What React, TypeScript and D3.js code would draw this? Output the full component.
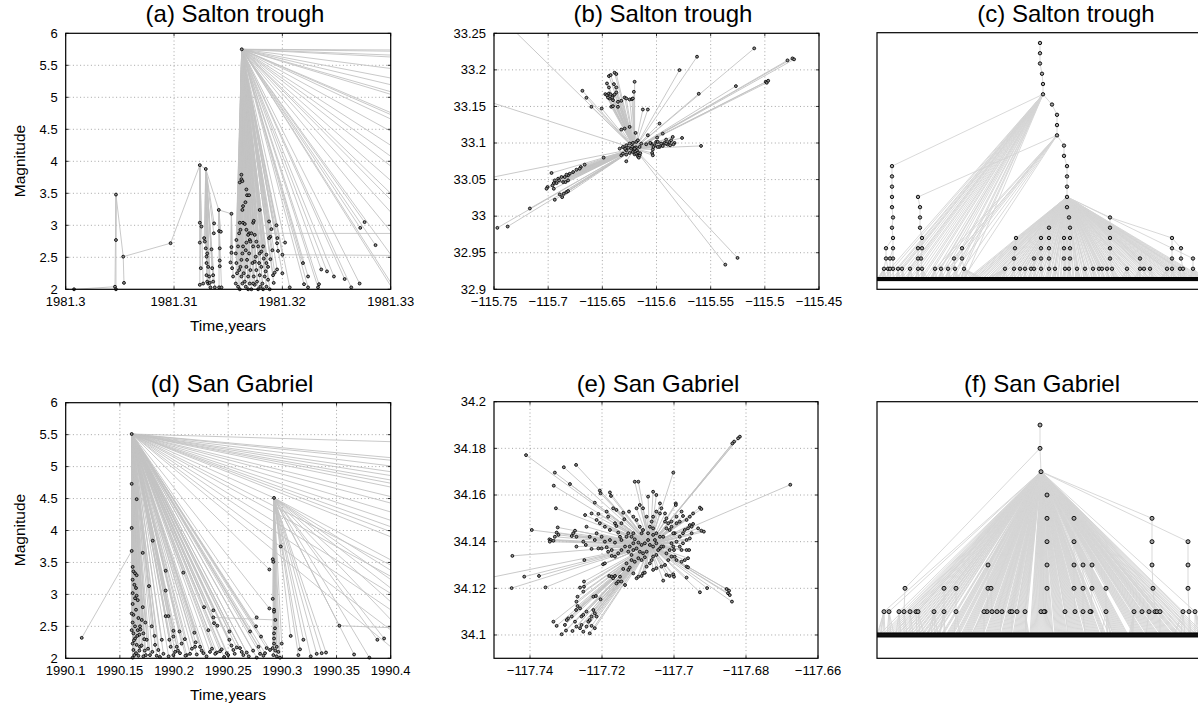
import React from "react";
import * as d3 from "d3";

const FONT = "'Liberation Sans', Arial, Helvetica, sans-serif";

/* ============ Salton trough (1981) ============ */

// magnitude-time sequence: [time (yr), magnitude, parent index (-1 = no parent)]
const saltonSequence: [number, number, number][] = [
  [1981.31625, 5.75, -1],
  [1981.30077, 2.0, 2], [1981.30455, 2.04, 3], [1981.30464, 3.48, -1], [1981.30464, 2.77, 3],
  [1981.30464, 2.0, 3], [1981.30531, 2.51, 3], [1981.30538, 2.1, 6], [1981.30968, 2.72, 6],
  [1981.31238, 3.94, 8], [1981.31293, 3.88, 9], [1981.31413, 3.24, 10], [1981.3153, 3.18, 11],
  [1981.31238, 3.04, 9], [1981.31253, 2.98, 9], [1981.31238, 2.73, 9], [1981.31247, 2.33, 9],
  [1981.31238, 2.07, 9], [1981.31269, 2.09, 9],
  [1981.31278, 2.8, 10], [1981.31284, 2.745, 10], [1981.31293, 2.64, 10], [1981.313, 2.51, 10],
  [1981.31306, 2.56, 10], [1981.313, 2.41, 10], [1981.31315, 2.35, 10], [1981.313, 2.22, 10],
  [1981.31306, 2.12, 10], [1981.31315, 2.09, 10], [1981.3133, 2.1, 10], [1981.31324, 2.2, 10],
  [1981.31352, 2.33, 10], [1981.31361, 2.22, 10], [1981.31361, 2.12, 10], [1981.31346, 2.625, 10],
  [1981.3137, 3.03, 10], [1981.31367, 2.875, 10], [1981.31376, 2.03, 10], [1981.31336, 2.03, 10],
  [1981.31416, 2.91, 11], [1981.31432, 2.9, 11], [1981.31422, 2.64, 11], [1981.31422, 2.45, 11],
  [1981.31422, 2.36, 11], [1981.31416, 2.03, 11], [1981.31438, 2.03, 11],
  [1981.31521, 2.42, 12], [1981.3153, 2.66, 12], [1981.3153, 2.57, 12], [1981.31536, 2.33, 12],
  [1981.31545, 2.2, 12],
  [1981.31693, 2.875, 0], [1981.32, 2.54, 0], [1981.4, 2.86, 51], [1981.36, 2.5, 52],
];

// aftershocks linked to the M5.75 mainshock: [time, magnitude]
const saltonAftershocks: [number, number][] = [
  [1981.31607, 3.67], [1981.31622, 3.79], [1981.31622, 3.72], [1981.31631, 3.69], [1981.31668, 3.56],
  [1981.31674, 3.47], [1981.31693, 3.47], [1981.31659, 3.36], [1981.31637, 3.3], [1981.31631, 3.24],
  [1981.31607, 3.04], [1981.31637, 3.04], [1981.31653, 3.02], [1981.3173, 3.04], [1981.31736, 3.07],
  [1981.31684, 2.85], [1981.31668, 2.73], [1981.31791, 3.24], [1981.3176, 2.745],
  [1981.31806, 2.59], [1981.31822, 2.67], [1981.31877, 3.06], [1981.31899, 2.94], [1981.31889, 2.82],
  [1981.31877, 2.8], [1981.31945, 3.0], [1981.31954, 2.8], [1981.31951, 2.72], [1981.3196, 2.6],
  [1981.32025, 2.73], [1981.31908, 2.61], [1981.31889, 2.47], [1981.31853, 2.41],
  [1981.31951, 2.31], [1981.31929, 2.26], [1981.31914, 2.22], [1981.3192, 2.1], [1981.32, 2.25],
  [1981.32068, 2.03], [1981.3219, 2.41], [1981.32237, 2.2], [1981.322, 2.08], [1981.32237, 2.03],
  [1981.32338, 2.08], [1981.32329, 2.03], [1981.32359, 2.31], [1981.32412, 2.28], [1981.32476, 2.2],
  [1981.32575, 2.16], [1981.32636, 2.03], [1981.32713, 2.09], [1981.32719, 2.96], [1981.32759, 3.05],
  [1981.3286, 2.69],
  [1981.31576, 2.77], [1981.3157, 2.56], [1981.31576, 2.41], [1981.31582, 2.25], [1981.3157, 2.09],
  [1981.31591, 2.04], [1981.31607, 2.0], [1981.31613, 2.35], [1981.31622, 2.46], [1981.31631, 2.56],
  [1981.31637, 2.67], [1981.31643, 2.25], [1981.31653, 2.12], [1981.31662, 2.04], [1981.31668, 2.35],
  [1981.31674, 2.46], [1981.31684, 2.2], [1981.31693, 2.56], [1981.31699, 2.09], [1981.31705, 2.3],
  [1981.31714, 2.0], [1981.31724, 2.41], [1981.3173, 2.67], [1981.31736, 2.2], [1981.31745, 2.07],
  [1981.31754, 2.51], [1981.3176, 2.3], [1981.31766, 2.12], [1981.31776, 2.0], [1981.31785, 2.41],
  [1981.31791, 2.22], [1981.31797, 2.04], [1981.31806, 2.35], [1981.31816, 2.09], [1981.31822, 2.0],
  [1981.31837, 2.2], [1981.31846, 2.28], [1981.31853, 2.04], [1981.31868, 2.15], [1981.31883, 2.0],
  [1981.31591, 2.67], [1981.31601, 2.875], [1981.31613, 2.93], [1981.31668, 2.93], [1981.31699, 2.77],
  [1981.31714, 2.875], [1981.31745, 2.85], [1981.31776, 2.67], [1981.31791, 2.56], [1981.31828, 2.48],
  [1981.31853, 2.54], [1981.31868, 2.35], [1981.31601, 2.3], [1981.31622, 2.2], [1981.31631, 2.09],
  [1981.31684, 2.0], [1981.3173, 2.09], [1981.31745, 2.43], [1981.31705, 2.745], [1981.31662, 2.61],
];

// later aftershocks of the mainshock, past the end of the time window
const saltonLateAftershocks: [number, number][] = [
  [1985.65, 2.6], [1982.9, 2.3], [1981.767, 2.8], [1981.734, 2.1], [1981.47, 2.4], [1981.425, 2.2],
  [1981.397, 2.5], [1981.392, 2.1], [1981.37, 3.0], [1981.3656, 2.2], [1981.3587, 2.6], [1981.3636, 2.0],
  [1981.3533, 2.3], [1981.3497, 2.1], [1981.3438, 2.4], [1981.343, 2.2], [1981.3414, 2.0], [1981.3361, 2.5],
  [1981.3376, 2.1], [1981.3349, 2.3], [1981.3334, 2.2], [1981.3319, 2.1], [1981.3304, 2.0], [1981.3302, 2.0],
];

// epicentres: [longitude, latitude]; all linked to the mainshock epicentre
const saltonEpicenterHub: [number, number] = [-115.6202, 33.0923];
const saltonEpicenters: [number, number][] = [
  [-115.6439, 33.1915], [-115.6423, 33.1929], [-115.6387, 33.1961], [-115.6371, 33.1943],
  [-115.6457, 33.1814], [-115.6439, 33.176], [-115.6393, 33.1805], [-115.6371, 33.176],
  [-115.6472, 33.1668], [-115.6457, 33.1654], [-115.6439, 33.1677], [-115.6423, 33.1664],
  [-115.6402, 33.1645], [-115.6387, 33.1664], [-115.6371, 33.1691], [-115.6433, 33.1609],
  [-115.6402, 33.1586], [-115.6356, 33.1563], [-115.6417, 33.1495], [-115.6402, 33.1504],
  [-115.6356, 33.1495], [-115.6448, 33.1622], [-115.6408, 33.1622], [-115.6202, 33.1837],
  [-115.6209, 33.17], [-115.6294, 33.1622], [-115.6279, 33.1609], [-115.6248, 33.1595],
  [-115.6227, 33.16], [-115.6218, 33.1609], [-115.6325, 33.1577], [-115.6684, 33.1714],
  [-115.6647, 33.1618], [-115.6601, 33.1495], [-115.6506, 33.1472], [-115.6126, 33.1458],
  [-115.608, 33.1458],
  [-115.5626, 33.218], [-115.5098, 33.2294], [-115.5788, 33.1997], [-115.5267, 33.1778],
  [-115.561, 33.1673], [-115.4745, 33.2157], [-115.473, 33.2144], [-115.4791, 33.213],
  [-115.4991, 33.1837], [-115.4982, 33.1824], [-115.4969, 33.1851],
  [-115.6325, 33.1184], [-115.6294, 33.1197], [-115.6248, 33.122], [-115.6193, 33.1138],
  [-115.5972, 33.1266], [-115.608, 33.1106], [-115.5994, 33.1074], [-115.5942, 33.1129],
  [-115.6049, 33.0992], [-115.6018, 33.0969], [-115.6003, 33.1015], [-115.5972, 33.0946],
  [-115.5957, 33.0992], [-115.5926, 33.1001], [-115.5911, 33.1047], [-115.5896, 33.0978],
  [-115.588, 33.1015], [-115.5865, 33.1037], [-115.585, 33.1083], [-115.5834, 33.1001],
  [-115.5764, 33.1069], [-115.5589, 33.096], [-115.5844, 33.0983], [-115.5942, 33.096],
  [-115.5988, 33.0946], [-115.6034, 33.091], [-115.604, 33.0864], [-115.6034, 33.0832],
  [-115.6028, 33.0946], [-115.6058, 33.1001], [-115.5911, 33.0992], [-115.5874, 33.0969],
  [-115.5988, 33.1015], [-115.6095, 33.0983],
  [-115.634, 33.0923], [-115.631, 33.0946], [-115.6279, 33.0969], [-115.6248, 33.0992],
  [-115.6218, 33.1001], [-115.6187, 33.1015], [-115.6172, 33.1037], [-115.6233, 33.0923],
  [-115.6279, 33.09], [-115.6325, 33.0832], [-115.631, 33.0855], [-115.6279, 33.0841],
  [-115.6248, 33.0864], [-115.6218, 33.0878], [-115.6202, 33.0846], [-115.6187, 33.0855],
  [-115.6172, 33.0818], [-115.6163, 33.08], [-115.6156, 33.0832], [-115.6181, 33.09],
  [-115.6279, 33.075], [-115.6488, 33.08], [-115.6156, 33.0946], [-115.6141, 33.0992],
  [-115.62, 33.093], [-115.619, 33.094], [-115.621, 33.091], [-115.617, 33.087],
  [-115.615, 33.086], [-115.6225, 33.095], [-115.626, 33.0935], [-115.629, 33.092],
  [-115.6663, 33.0704], [-115.6699, 33.0672], [-115.6709, 33.0649], [-115.6739, 33.0635],
  [-115.677, 33.0603], [-115.6801, 33.058], [-115.6816, 33.0558], [-115.6831, 33.0567],
  [-115.6847, 33.0535], [-115.6877, 33.0535], [-115.6908, 33.0512], [-115.6939, 33.0489],
  [-115.6948, 33.0452], [-115.696, 33.042], [-115.6948, 33.0375], [-115.6923, 33.0452],
  [-115.6899, 33.0489], [-115.6862, 33.0466], [-115.684, 33.0466], [-115.6816, 33.0489],
  [-115.6831, 33.0329], [-115.6816, 33.0343], [-115.6856, 33.0306], [-115.6871, 33.026],
  [-115.6893, 33.0297], [-115.6939, 33.0224], [-115.6969, 33.059], [-115.7006, 33.0398],
  [-115.7015, 33.0375], [-115.7169, 33.0105], [-115.7469, 32.984], [-115.7374, 32.9858],
  [-115.5252, 32.9429], [-115.5365, 32.9337],
  [-115.7383, 33.2637], [-115.7629, 33.1604], [-115.7629, 33.0498],
];

// cluster tree: [order, height level, parent node index]
const saltonTreeNodes: [number, number, number][] = [
  [163, 23, -1], [163, 22, 0], [163, 21, 1], [165, 20, 2], [166, 19, 3], [166, 18, 4],
  [175, 17, 5], [180, 16, 6], [180, 15, 7], [180, 14, 8], [187, 13, 9], [187, 12, 10],
  [190, 11, 11], [190, 10, 12], [190, 9, 13], [190, 8, 14], [190, 7, 15], [192, 6, 16],
  [193, 5, 17], [193, 4, 18], [193, 3, 19], [193, 2, 20], [192, 1, 21],
  [15, 11, 5], [15, 10, 23], [15, 9, 24], [15, 8, 25], [15, 7, 26], [16, 6, 27], [15, 5, 28],
  [16, 4, 29], [16, 3, 30], [16, 2, 31], [16, 1, 32], [9, 3, 30], [9, 2, 34], [13, 2, 31],
  [7, 1, 35], [11, 1, 35], [13, 1, 36], [21, 1, 5], [25, 1, 5], [33, 1, 5],
  [41, 8, 9], [43, 7, 43], [43, 6, 44], [43, 5, 45], [45, 4, 46], [45, 3, 47], [41, 3, 47],
  [44, 2, 48], [41, 2, 49], [45, 1, 50], [41, 1, 51],
  [58, 1, 9], [64, 1, 5], [71, 1, 9],
  [85, 3, 9], [85, 2, 57], [77, 2, 57], [87, 1, 58], [78, 1, 59],
  [139, 4, 15], [138, 3, 62], [137, 2, 63], [137, 1, 64], [128, 1, 15], [143, 1, 15],
  [148, 1, 15], [154, 1, 15],
  [172, 5, 15], [172, 4, 70], [164, 4, 70], [172, 3, 71], [164, 3, 72], [172, 2, 73],
  [164, 2, 74], [157, 2, 74], [172, 1, 75], [164, 1, 76], [157, 1, 77],
  [187, 4, 17], [187, 3, 81], [187, 2, 82], [188, 1, 83],
  [178, 1, 15], [200, 1, 15], [208, 1, 15], [216, 1, 15], [222, 1, 15], [225, 1, 15], [230, 1, 15],
  [233, 6, 15], [233, 5, 92], [233, 4, 93], [233, 3, 94], [233, 2, 95], [235, 1, 96],
  [250, 1, 15], [263, 2, 15], [263, 1, 99], [267, 1, 15], [273, 1, 15], [290, 1, 15],
  [295, 4, 92], [295, 3, 104], [295, 2, 105], [295, 1, 106], [303, 1, 15],
  [304, 3, 104], [304, 2, 109], [306, 1, 110], [316, 2, 15], [316, 1, 112],
];
// leaf parents in leaf order: "." = node just above, letters = branching nodes
const saltonTreeLeaves = [
  "....u..u..", ".u...u..u.", ".u..u..u.u", "..u.u..u..", "u..u.u..u.", "u.v.u..u.v",
  ".u..u.v.u.", "u.v..u.u.v", ".u.u..v.u.", "h.hh.h.hh.", "hh.h.hh.h.", "hh.hh.h.hh",
  ".h.hh.h.hh", ".hh.h.hh.h", "h.hh.hh.h.", "hh.h.hh.hh", ".h.hh.h.hh", "h.hh.hh.h.",
  "hh.hh.h.hh", ".hh.h.hh.h", "h.hh.h.hh.", "hh.h.hh.h.", "hh.hh.h.hh", ".h.hh.h.hh",
  "h.hh.h.hh.", "hh.h.hh.h.", "hh.h.hh.hh", ".h.hh.h.hh", "h.hh.h.hh.", "hh.h.hh.h.",
  "h.hh.h.hh.", "hh.h.h.hh.", "h.h.h.h.h.",
].join("");
const saltonTreeBranches: Record<string, number> = { u: 5, v: 9, h: 15 };

/* ============ San Gabriel (1990) ============ */

const gabrielSequence: [number, number, number][] = [
  [1990.1609, 5.51, -1],
  [1990.2923, 4.51, 0],
  [1990.1609, 3.68, 0],
  [1990.1148, 2.32, 2],
  [1990.3526, 2.51, 1],
  [1990.46, 2.44, 4],
  [1990.2363, 2.64, 0],
  [1990.2935, 2.6, 6],
];

const gabrielAftershocks: [number, number][] = [
  [1990.1609, 4.73], [1990.1609, 4.04], [1990.1655, 4.49],
  [1990.1618, 3.43], [1990.1625, 3.36], [1990.164, 3.33], [1990.1655, 3.3], [1990.1618, 3.23],
  [1990.1634, 3.15], [1990.1649, 3.1], [1990.1618, 3.02], [1990.164, 2.94], [1990.1665, 2.91],
  [1990.1618, 2.85], [1990.1649, 2.76], [1990.1625, 2.68], [1990.1671, 2.63], [1990.1618, 2.56],
  [1990.164, 2.5], [1990.1665, 2.44], [1990.1625, 2.39], [1990.168, 2.37], [1990.164, 2.31],
  [1990.1618, 2.23], [1990.1655, 2.21], [1990.1686, 2.18], [1990.1625, 2.13], [1990.1649, 2.08],
  [1990.1671, 2.04], [1990.1618, 2.01], [1990.1634, 2.05], [1990.168, 2.12], [1990.1609, 2.7],
  [1990.1609, 2.44], [1990.1686, 2.5], [1990.1702, 2.6], [1990.1711, 2.8], [1990.1655, 2.98],
  [1990.1735, 2.56], [1990.1711, 3.65], [1990.1803, 3.84], [1990.1769, 3.13], [1990.1794, 2.5],
  [1990.1717, 2.39], [1990.1748, 2.29], [1990.1717, 2.03], [1990.1778, 2.05], [1990.184, 2.04],
  [1990.1902, 2.07], [1990.1825, 2.21], [1990.1855, 2.13], [1990.1887, 2.29], [1990.1923, 3.37],
  [1990.1923, 3.06], [1990.1923, 2.66], [1990.1948, 2.66], [1990.1994, 2.43], [1990.1994, 2.34],
  [1990.1957, 2.29], [1990.1969, 2.18], [1990.1994, 2.05], [1990.2055, 2.08], [1990.2086, 3.34],
  [1990.2117, 2.05], [1990.2148, 2.07], [1990.2188, 2.4], [1990.2194, 2.18], [1990.224, 2.18],
  [1990.2271, 2.08], [1990.2277, 2.8], [1990.2317, 2.44], [1990.2332, 2.1], [1990.2363, 2.75],
  [1990.2369, 2.55], [1990.24, 2.51], [1990.2394, 2.09], [1990.2425, 2.11], [1990.2462, 2.02],
  [1990.2486, 2.08], [1990.2511, 2.42], [1990.2511, 2.29], [1990.2548, 2.13], [1990.2579, 2.17],
  [1990.2609, 2.16], [1990.264, 2.05], [1990.2671, 2.09], [1990.2702, 2.42], [1990.2757, 2.5],
  [1990.2763, 2.64], [1990.2763, 2.01], [1990.2794, 2.07], [1990.2803, 2.34], [1990.284, 2.08],
  [1990.2855, 2.16], [1990.288, 3.39], [1990.288, 2.78], [1990.2886, 2.13], [1990.2025, 2.18],
  [1990.207, 2.23], [1990.163, 2.28], [1990.166, 2.35], [1990.17, 2.2], [1990.173, 2.12],
  [1990.176, 2.15], [1990.169, 2.45], [1990.1725, 2.3], [1990.174, 2.05], [1990.18, 2.1],
  [1990.187, 2.02], [1990.182, 2.35], [1990.195, 2.03], [1990.201, 2.1],
  [1990.2035, 2.12], [1990.2105, 2.04], [1990.2165, 2.15], [1990.221, 2.06], [1990.2255, 2.12],
  [1990.23, 2.03], [1990.235, 2.15], [1990.238, 2.07], [1990.244, 2.14], [1990.25, 2.05],
  [1990.253, 2.2], [1990.256, 2.07], [1990.2625, 2.1], [1990.269, 2.03], [1990.273, 2.12],
  [1990.278, 2.18], [1990.2825, 2.04], [1990.21, 2.3], [1990.22, 2.25], [1990.205, 2.42],
];

const gabrielLateAftershocks: [number, number][] = [
  [1996.56, 2.3], [1992.106, 2.5], [1992.09, 2.2], [1991.648, 2.4], [1991.543, 2.1], [1991.231, 2.6],
  [1991.227, 2.3], [1991.251, 2.0], [1991.028, 2.5], [1990.969, 2.2], [1990.849, 2.4], [1990.829, 2.1],
  [1990.729, 2.3], [1990.624, 2.7], [1990.71, 2.0], [1990.653, 2.2], [1990.535, 2.3], [1990.527, 2.1],
  [1990.459, 2.4], [1990.466, 2.0], [1990.419, 2.2], [1990.413, 2.0],
];

// aftershocks of the M4.5 event (sequence index 1)
const gabrielSecondAftershocks: [number, number][] = [
  [1990.2911, 3.55], [1990.2917, 3.51], [1990.2911, 2.93], [1990.2923, 2.76], [1990.2923, 2.73],
  [1990.2932, 2.47], [1990.2923, 2.39], [1990.2923, 2.31], [1990.2923, 2.23], [1990.2985, 3.75],
  [1990.2994, 2.23], [1990.2948, 2.18], [1990.2935, 2.12], [1990.2917, 2.05], [1990.2948, 2.03],
  [1990.2978, 2.01], [1990.2963, 2.1], [1990.2911, 2.16], [1990.3077, 2.35], [1990.3163, 2.14],
  [1990.3194, 2.29], [1990.3148, 2.05], [1990.3262, 2.03], [1990.3317, 2.07], [1990.3363, 2.08],
  [1990.3403, 2.09], [1990.3662, 2.06], [1990.3803, 2.01], [1990.3877, 2.29], [1990.3939, 2.31],
  [1990.549, 2.2], [1990.493, 2.4], [1990.504, 2.0], [1990.461, 2.3], [1990.452, 2.1], [1990.423, 2.2],
];

const gabrielEpicenterHub: [number, number] = [-117.7067, 34.1386];
const gabrielEpicenters: [number, number][] = [
  [-117.7411, 34.1771], [-117.7331, 34.1696], [-117.7334, 34.164], [-117.7289, 34.1647],
  [-117.7306, 34.1719], [-117.7272, 34.1729], [-117.7328, 34.1543], [-117.7323, 34.1461],
  [-117.7395, 34.145], [-117.7449, 34.1339], [-117.7416, 34.125], [-117.7375, 34.1253],
  [-117.7451, 34.1201], [-117.7357, 34.1204],
  [-117.7346, 34.141], [-117.7342, 34.1407], [-117.7335, 34.1404], [-117.7331, 34.1421],
  [-117.7326, 34.1439], [-117.7321, 34.1429], [-117.7345, 34.14],
  [-117.7275, 34.1447], [-117.728, 34.1436], [-117.7271, 34.1421], [-117.7284, 34.1424],
  [-117.7271, 34.1379], [-117.7252, 34.14], [-117.7245, 34.1386], [-117.722, 34.1407],
  [-117.7229, 34.1369], [-117.721, 34.1371], [-117.7201, 34.1371],
  [-117.7206, 34.1619], [-117.7204, 34.1607], [-117.7178, 34.1611], [-117.7175, 34.1596],
  [-117.722, 34.1567], [-117.7169, 34.1543], [-117.716, 34.1536], [-117.7187, 34.1529],
  [-117.7183, 34.1507], [-117.721, 34.1519], [-117.7215, 34.1493], [-117.7206, 34.1479],
  [-117.7192, 34.1464], [-117.7178, 34.145], [-117.716, 34.1467], [-117.7155, 34.1439],
  [-117.7164, 34.1479], [-117.7146, 34.1479], [-117.7141, 34.1524], [-117.7125, 34.1529],
  [-117.7138, 34.1496], [-117.7146, 34.1407], [-117.7132, 34.1421], [-117.7164, 34.1396],
  [-117.7173, 34.1364], [-117.7183, 34.1357], [-117.7187, 34.1376], [-117.7197, 34.1303],
  [-117.7192, 34.1307], [-117.7173, 34.1339], [-117.7164, 34.1336], [-117.7155, 34.135],
  [-117.7146, 34.1364], [-117.7136, 34.1379], [-117.7127, 34.1357], [-117.7118, 34.1343],
  [-117.7113, 34.1364], [-117.7104, 34.1371], [-117.7095, 34.1357], [-117.7086, 34.135],
  [-117.7076, 34.1357], [-117.7118, 34.1321], [-117.7109, 34.1314], [-117.7099, 34.1329],
  [-117.709, 34.1321], [-117.7081, 34.1333], [-117.7132, 34.1307], [-117.7141, 34.1283],
  [-117.7127, 34.1279], [-117.7123, 34.1289], [-117.7113, 34.1264], [-117.7104, 34.1243],
  [-117.7099, 34.125], [-117.709, 34.1253], [-117.7086, 34.1264], [-117.7081, 34.1267],
  [-117.7076, 34.1293], [-117.7067, 34.1307], [-117.7062, 34.1321], [-117.7058, 34.1336],
  [-117.7049, 34.1343], [-117.7039, 34.1371], [-117.703, 34.1379], [-117.7021, 34.135],
  [-117.718, 34.1253], [-117.7173, 34.125], [-117.7169, 34.1243], [-117.7164, 34.1253],
  [-117.716, 34.1221], [-117.7155, 34.1229], [-117.715, 34.125], [-117.7146, 34.1229],
  [-117.7136, 34.1214], [-117.7249, 34.1321],
  [-117.7252, 34.1186], [-117.7224, 34.1164], [-117.7204, 34.1153], [-117.7217, 34.1167],
  [-117.7261, 34.1203], [-117.725, 34.1229], [-117.725, 34.1207], [-117.7268, 34.1164],
  [-117.7271, 34.1143], [-117.7268, 34.1124], [-117.7272, 34.1107], [-117.7261, 34.1114],
  [-117.7257, 34.1079], [-117.7252, 34.1086], [-117.7243, 34.11], [-117.7238, 34.1057],
  [-117.7234, 34.1064], [-117.7229, 34.1079], [-117.7224, 34.1107], [-117.722, 34.1093],
  [-117.7215, 34.1079], [-117.7229, 34.1039], [-117.7234, 34.1007], [-117.722, 34.1029],
  [-117.7243, 34.1036], [-117.7252, 34.1014], [-117.7261, 34.1029], [-117.7271, 34.1036],
  [-117.7275, 34.1057], [-117.7284, 34.1079], [-117.7294, 34.1071], [-117.7298, 34.1064],
  [-117.7303, 34.1043], [-117.7312, 34.1003], [-117.7326, 34.1039], [-117.7335, 34.1057],
  [-117.7282, 34.1017], [-117.73, 34.1019], [-117.7257, 34.1043],
  [-117.703, 34.1233], [-117.7012, 34.1253], [-117.7002, 34.126], [-117.7, 34.1364],
  [-117.6993, 34.14], [-117.6984, 34.1421], [-117.6998, 34.1436], [-117.7012, 34.145],
  [-117.7025, 34.1486], [-117.7021, 34.15], [-117.7039, 34.1521], [-117.7025, 34.1521],
  [-117.7035, 34.1543], [-117.7039, 34.1564], [-117.7049, 34.16], [-117.7058, 34.1614],
  [-117.7072, 34.1593], [-117.7086, 34.1543], [-117.7095, 34.1557], [-117.7104, 34.1543],
  [-117.7113, 34.1507], [-117.7104, 34.1493], [-117.7095, 34.1464], [-117.7086, 34.145],
  [-117.7067, 34.1464], [-117.7058, 34.1457], [-117.7049, 34.1436], [-117.7039, 34.1421],
  [-117.703, 34.1421], [-117.7021, 34.1457], [-117.7016, 34.1479], [-117.7007, 34.1486],
  [-117.6993, 34.1507], [-117.7058, 34.1429], [-117.7072, 34.1407], [-117.7081, 34.1393],
  [-117.709, 34.1386], [-117.7099, 34.1396], [-117.7109, 34.141], [-117.7118, 34.1421],
  [-117.7127, 34.1436], [-117.709, 34.1436], [-117.7072, 34.1436], [-117.7062, 34.1486],
  [-117.7076, 34.1507], [-117.7058, 34.1507], [-117.7049, 34.1529], [-117.7109, 34.1657],
  [-117.7099, 34.1657],
  [-117.7247, 34.1514], [-117.7229, 34.1521], [-117.7243, 34.1464], [-117.7234, 34.1421],
  [-117.7215, 34.1436], [-117.7201, 34.1421], [-117.7192, 34.14], [-117.7178, 34.1407],
  [-117.715, 34.1421], [-117.7113, 34.1436], [-117.7113, 34.1393], [-117.7123, 34.1379],
  [-117.7058, 34.1379], [-117.7049, 34.1393], [-117.7053, 34.1407],
  [-117.6817, 34.185], [-117.6822, 34.1843], [-117.6833, 34.1829], [-117.6838, 34.1821],
  [-117.6677, 34.1644], [-117.7002, 34.1696],
  [-117.6928, 34.1546], [-117.6924, 34.154], [-117.6947, 34.1521], [-117.6956, 34.1507],
  [-117.6965, 34.1493], [-117.6975, 34.151], [-117.6984, 34.1486], [-117.6956, 34.1471],
  [-117.6947, 34.1476], [-117.6951, 34.1464], [-117.6961, 34.1457], [-117.697, 34.145],
  [-117.6975, 34.1436], [-117.6933, 34.1457], [-117.6924, 34.1447], [-117.6917, 34.1443],
  [-117.6951, 34.1436], [-117.6956, 34.1414], [-117.6965, 34.1407], [-117.6975, 34.1393],
  [-117.6984, 34.1379], [-117.6979, 34.1364], [-117.6965, 34.1364], [-117.6958, 34.1364],
  [-117.6961, 34.1329], [-117.697, 34.1321], [-117.6979, 34.1314], [-117.6965, 34.1293],
  [-117.6961, 34.129], [-117.6993, 34.1321], [-117.6998, 34.1336], [-117.7007, 34.1336],
  [-117.7016, 34.1321], [-117.7025, 34.13], [-117.7035, 34.1293], [-117.7049, 34.1286],
  [-117.7058, 34.1279], [-117.7021, 34.1257], [-117.7, 34.125], [-117.6965, 34.1246],
  [-117.6908, 34.1201], [-117.6928, 34.1183],
  [-117.6854, 34.1197], [-117.685, 34.1179], [-117.6845, 34.1171], [-117.6839, 34.1143],
  [-117.6847, 34.119],
  [-117.6995, 34.1564], [-117.6995, 34.1557], [-117.6979, 34.1529], [-117.6993, 34.1479],
  [-117.7007, 34.1464], [-117.7002, 34.1436], [-117.7007, 34.1393], [-117.7002, 34.1379],
  [-117.7012, 34.1364], [-117.7035, 34.1379], [-117.7044, 34.1364],
  [-117.7539, 34.1237],
];

const gabrielTreeNodes: [number, number, number][] = [
  [163, 9, -1], [163, 8, 0], [164, 7, 1], [170, 6, 2], [170, 5, 3], [170, 4, 4], [170, 3, 5],
  [170, 2, 6], [168, 1, 7],
  [197, 5, 2], [197, 4, 9], [197, 3, 10], [197, 2, 11], [198, 1, 12],
  [275, 5, 2], [275, 4, 14], [275, 3, 15], [276, 2, 16], [278, 1, 17],
  [311, 4, 2], [311, 3, 19], [311, 2, 20], [312, 1, 21],
  [111, 3, 2], [111, 2, 23], [110, 1, 24], [114, 2, 2], [115, 1, 26],
  [206, 3, 2], [206, 2, 28], [206, 1, 29], [215, 3, 2], [215, 2, 31], [214, 1, 32],
  [229, 2, 2], [229, 1, 34], [28, 2, 1], [27, 1, 36], [67, 2, 2], [67, 1, 38], [79, 2, 2], [79, 1, 40],
  [7, 1, 2], [12, 1, 2], [22, 1, 2], [33, 1, 2], [39, 1, 2], [41, 1, 2], [57, 1, 2], [107, 1, 2],
  [120, 1, 2], [125, 1, 2], [133, 1, 2], [135, 1, 2], [140, 1, 2], [148, 1, 2], [164, 1, 2],
  [167, 1, 2], [188, 1, 2], [213, 1, 2], [257, 1, 2], [265, 1, 2], [272, 1, 2], [280, 1, 2],
  [283, 1, 2], [306, 1, 2], [318, 1, 2],
];
const gabrielTreeLeaves = [
  "..h..h.h.h", ".h.h.hh.h.", "hh.h.hh.hh", ".hh.hh.hhh", ".hh.hhh.hh", "h.hh.hhh.h",
  "h...hhh..h", "hhhhhhh.hh", "hhh.hhhhhh", "hhhh.hhhhh", "hhhhhhh.hh", "hhhhhhhhhh",
  "hhh.hhhhhh", "hhhhh.hhhh", "hhhhhhhhh.", "...hhhhhhh", "hhhhhhhhhh", "hhhhhhh.hh",
  "hhhhhhhhhh", "h.hhhhhhhh", "hhhhhhhh.h", "hhhhhhhhhh", "hhhh.hhhhh", "..h..h.hhh",
  "hhhhhhhhhh", "hh.....hhh", "hhhhhhhhh.", "hhhhhhhhhh", "hhh.hhhhhh", "hhhhhhh.hh",
  "hhhh.hhh.h", "hh.h.hhh.h", "h.h.h.h.h.",
].join("");
const gabrielTreeBranches: Record<string, number> = { h: 2 };

/* ============ axis ticks ============ */
const magTicks = [2, 2.5, 3, 3.5, 4, 4.5, 5, 5.5, 6];
const saltonTimeTicks = [1981.3, 1981.31, 1981.32, 1981.33];
const saltonLonTicks = [-115.75, -115.7, -115.65, -115.6, -115.55, -115.5, -115.45];
const saltonLatTicks = [32.9, 32.95, 33, 33.05, 33.1, 33.15, 33.2, 33.25];
const gabrielTimeTicks = [1990.1, 1990.15, 1990.2, 1990.25, 1990.3, 1990.35, 1990.4];
const gabrielLonTicks = [-117.74, -117.72, -117.7, -117.68, -117.66];
const gabrielLatTicks = [34.1, 34.12, 34.14, 34.16, 34.18, 34.2];

type Frame = { x0: number; x1: number; y0: number; y1: number };
type Link = [number, number, number, number];

const fmt = d3.format("~g");

function LinkPlot(props: {
  id: string; f: Frame; xd: [number, number]; yd: [number, number];
  xt: number[]; yt: number[]; links: Link[]; pts: [number, number][];
}) {
  const { id, f, xd, yd, xt, yt, links, pts } = props;
  const x = d3.scaleLinear().domain(xd).range([f.x0, f.x1]);
  const y = d3.scaleLinear().domain(yd).range([f.y1, f.y0]);
  const inside = (p: [number, number]) =>
    p[0] >= xd[0] - 1e-9 && p[0] <= xd[1] + 1e-9 && p[1] >= yd[0] - 1e-9 && p[1] <= yd[1] + 1e-9;
  return (
    <g>
      <defs>
        <clipPath id={id}>
          <rect x={f.x0} y={f.y0} width={f.x1 - f.x0} height={f.y1 - f.y0} />
        </clipPath>
      </defs>
      {xt.filter((v) => x(v) > f.x0 + 1 && x(v) < f.x1 - 1).map((v) => (
        <line key={"gx" + v} x1={x(v)} x2={x(v)} y1={f.y0} y2={f.y1} stroke="#8f8f8f" strokeWidth={0.8} strokeDasharray="1 2.6" />
      ))}
      {yt.filter((v) => y(v) > f.y0 + 1 && y(v) < f.y1 - 1).map((v) => (
        <line key={"gy" + v} x1={f.x0} x2={f.x1} y1={y(v)} y2={y(v)} stroke="#8f8f8f" strokeWidth={0.8} strokeDasharray="1 2.6" />
      ))}
      <g clipPath={`url(#${id})`}>
        {links.map((l, i) => (
          <line key={i} x1={x(l[0])} y1={y(l[1])} x2={x(l[2])} y2={y(l[3])} stroke="#c3c3c3" strokeWidth={0.9} />
        ))}
      </g>
      {pts.filter(inside).map((p, i) => (
        <circle key={i} cx={x(p[0])} cy={y(p[1])} r={1.45} fill="#8c8c8c" stroke="#000" strokeWidth={0.85} />
      ))}
      <rect x={f.x0} y={f.y0} width={f.x1 - f.x0} height={f.y1 - f.y0} fill="none" stroke="#000" strokeWidth={1.2} />
      {xt.map((v) => (
        <g key={"tx" + v}>
          <line x1={x(v)} x2={x(v)} y1={f.y1} y2={f.y1 - 3} stroke="#000" strokeWidth={0.8} />
          <line x1={x(v)} x2={x(v)} y1={f.y0} y2={f.y0 + 3} stroke="#000" strokeWidth={0.8} />
          <text x={x(v)} y={f.y1 + 17} fontSize={13} textAnchor="middle">{fmt(v)}</text>
        </g>
      ))}
      {yt.map((v) => (
        <g key={"ty" + v}>
          <line x1={f.x0} x2={f.x0 + 3} y1={y(v)} y2={y(v)} stroke="#000" strokeWidth={0.8} />
          <line x1={f.x1} x2={f.x1 - 3} y1={y(v)} y2={y(v)} stroke="#000" strokeWidth={0.8} />
          <text x={f.x0 - 8} y={y(v) + 4.3} fontSize={13} textAnchor="end">{fmt(v)}</text>
        </g>
      ))}
    </g>
  );
}

function TreePlot(props: {
  f: Frame; yd: [number, number]; nodes: [number, number, number][];
  leaves: string; branches: Record<string, number>; r: number;
}) {
  const { f, yd, nodes, leaves, branches, r } = props;
  const x = d3.scaleLinear().domain([0, 325]).range([f.x0, f.x0 + 325]);
  const y = d3.scaleLinear().domain(yd).range([f.y1, f.y0]);
  const levelOne = nodes.map((n, i) => ({ n, i })).filter((d) => d.n[1] === 1);
  const leafList = leaves.split("").map((c, rank) => {
    let parent: number;
    if (c === ".") {
      parent = levelOne.reduce((best, d) =>
        Math.abs(d.n[0] - rank) < Math.abs(nodes[best][0] - rank) ? d.i : best, levelOne[0].i);
    } else parent = branches[c];
    return { rank, parent };
  });
  return (
    <g>
      <defs>
        <clipPath id={"clip" + f.y0}>
          <rect x={f.x0} y={f.y0} width={400} height={f.y1 - f.y0} />
        </clipPath>
      </defs>
      <g clipPath={`url(#clip${f.y0})`}>
        {leafList.map((l) => (
          <line key={"l" + l.rank} x1={x(nodes[l.parent][0])} y1={y(nodes[l.parent][1])} x2={x(l.rank)} y2={y(0)} stroke="#d5d5d5" strokeWidth={0.9} />
        ))}
        {nodes.map((n, i) => n[2] >= 0 ? (
          <line key={"e" + i} x1={x(nodes[n[2]][0])} y1={y(nodes[n[2]][1])} x2={x(n[0])} y2={y(n[1])} stroke="#d5d5d5" strokeWidth={0.9} />
        ) : null)}
        {nodes.map((n, i) => (
          <circle key={"n" + i} cx={x(n[0])} cy={y(n[1])} r={r} fill="#a3a3a3" stroke="#000" strokeWidth={0.9} />
        ))}
        {leafList.map((l) => (
          <circle key={"c" + l.rank} cx={x(l.rank)} cy={y(0)} r={r} fill="#3a3a3a" stroke="#000" strokeWidth={0.9} />
        ))}
      </g>
      <rect x={f.x0} y={f.y0} width={400} height={f.y1 - f.y0} fill="none" stroke="#000" strokeWidth={1.2} />
    </g>
  );
}

function sequenceLinks(seq: [number, number, number][], groups: [number, [number, number][]][]): Link[] {
  const out: Link[] = [];
  seq.forEach((e) => {
    if (e[2] >= 0) out.push([seq[e[2]][0], seq[e[2]][1], e[0], e[1]]);
  });
  groups.forEach(([p, kids]) => kids.forEach((k) => out.push([seq[p][0], seq[p][1], k[0], k[1]])));
  return out;
}

export default function App() {
  const fA: Frame = { x0: 65.7, x1: 390.7, y0: 33.3, y1: 289.3 };
  const fB: Frame = { x0: 494, x1: 819, y0: 33.3, y1: 289.3 };
  const fC: Frame = { x0: 877, x1: 1202, y0: 32.7, y1: 289.3 };
  const fD: Frame = { x0: 65.7, x1: 390.7, y0: 402.7, y1: 658.3 };
  const fE: Frame = { x0: 494, x1: 818, y0: 401.7, y1: 658.3 };
  const fF: Frame = { x0: 877, x1: 1202, y0: 401.7, y1: 658.3 };

  const aLinks = sequenceLinks(saltonSequence, [[0, saltonAftershocks], [0, saltonLateAftershocks]]);
  const aPts: [number, number][] = [
    ...saltonSequence.map((e) => [e[0], e[1]] as [number, number]),
    ...saltonAftershocks,
  ];
  const dLinks = sequenceLinks(gabrielSequence, [[0, gabrielAftershocks], [0, gabrielLateAftershocks], [1, gabrielSecondAftershocks]]);
  const dPts: [number, number][] = [
    ...gabrielSequence.map((e) => [e[0], e[1]] as [number, number]),
    ...gabrielAftershocks,
    ...gabrielSecondAftershocks,
  ];
  const bLinks: Link[] = saltonEpicenters.map((p) => [saltonEpicenterHub[0], saltonEpicenterHub[1], p[0], p[1]]);
  const eLinks: Link[] = gabrielEpicenters.map((p) => [gabrielEpicenterHub[0], gabrielEpicenterHub[1], p[0], p[1]]);

  const title = (t: string, cx: number, by: number) => (
    <text x={cx} y={by} fontSize={24} textAnchor="middle">{t}</text>
  );

  return (
    <svg width={1198} height={708} viewBox="0 0 1198 708" style={{ position: "absolute", left: 0, top: 0 }} fontFamily={FONT}>
      <rect width={1198} height={708} fill="#fff" />
      <LinkPlot id="pa" f={fA} xd={[1981.3, 1981.33]} yd={[2, 6]} xt={saltonTimeTicks} yt={magTicks} links={aLinks} pts={aPts} />
      <LinkPlot id="pb" f={fB} xd={[-115.75, -115.45]} yd={[32.9, 33.25]} xt={saltonLonTicks} yt={saltonLatTicks} links={bLinks} pts={[...saltonEpicenters, saltonEpicenterHub]} />
      <TreePlot f={fC} yd={[-1, 24]} nodes={saltonTreeNodes} leaves={saltonTreeLeaves} branches={saltonTreeBranches} r={1.7} />
      <LinkPlot id="pd" f={fD} xd={[1990.1, 1990.4]} yd={[2, 6]} xt={gabrielTimeTicks} yt={magTicks} links={dLinks} pts={dPts} />
      <LinkPlot id="pe" f={fE} xd={[-117.75, -117.66]} yd={[34.09, 34.2]} xt={gabrielLonTicks} yt={gabrielLatTicks} links={eLinks} pts={[...gabrielEpicenters, gabrielEpicenterHub]} />
      <TreePlot f={fF} yd={[-1, 10]} nodes={gabrielTreeNodes} leaves={gabrielTreeLeaves} branches={gabrielTreeBranches} r={2.0} />

      {title("(a) Salton trough", 235, 22)}
      {title("(b) Salton trough", 663, 22)}
      {title("(c) Salton trough", 1066, 22)}
      {title("(d) San Gabriel", 232, 392)}
      {title("(e) San Gabriel", 658, 392)}
      {title("(f) San Gabriel", 1042, 392)}

      <text x={228} y={331} fontSize={15.5} textAnchor="middle">Time,years</text>
      <text x={228} y={700} fontSize={15.5} textAnchor="middle">Time,years</text>
      <text transform="translate(24.5,161) rotate(-90)" fontSize={15.5} textAnchor="middle">Magnitude</text>
      <text transform="translate(24.5,530) rotate(-90)" fontSize={15.5} textAnchor="middle">Magnitude</text>
    </svg>
  );
}
